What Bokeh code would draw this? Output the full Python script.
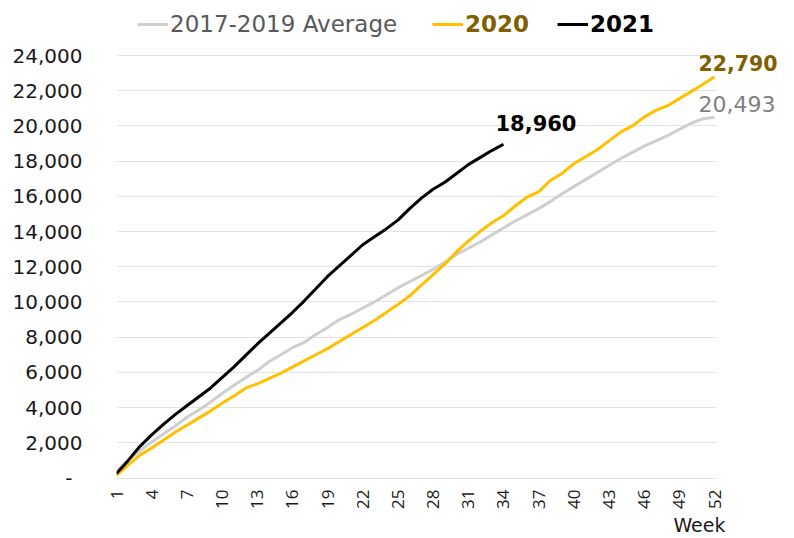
import math
from bokeh.plotting import figure
from bokeh.models import FixedTicker, NumeralTickFormatter, Legend, LegendItem, Label, Title
from bokeh.embed import file_html
from bokeh.resources import INLINE

weeks = list(range(1, 53))
avg_2017_2019 = [400, 1000, 1550, 2050, 2500, 2950, 3450, 3850, 4300, 4800,
                 5250, 5700, 6100, 6600, 7000, 7400, 7700, 8150, 8550, 9000,
                 9300, 9650, 10000, 10400, 10800, 11150, 11500, 11850, 12250, 12700,
                 13050, 13400, 13800, 14200, 14600, 14950, 15300, 15700, 16150, 16550,
                 16950, 17350, 17750, 18150, 18500, 18850, 19150, 19450, 19800, 20150,
                 20400, 20493]
y2020 = [150, 750, 1300, 1700, 2150, 2600, 3000, 3400, 3800, 4250,
         4650, 5100, 5350, 5650, 5950, 6300, 6650, 7000, 7350, 7750,
         8150, 8550, 8950, 9400, 9850, 10350, 10950, 11550, 12150, 12850,
         13450, 14000, 14500, 14900, 15450, 15950, 16250, 16900, 17300, 17850,
         18250, 18650, 19150, 19650, 20000, 20500, 20880, 21150, 21550, 21950,
         22350, 22790]
y2021 = [250, 1000, 1800, 2450, 3050, 3600, 4100, 4600, 5100, 5700,
         6300, 6950, 7600, 8200, 8800, 9400, 10050, 10750, 11450, 12050,
         12650, 13250, 13700, 14150, 14650, 15300, 15900, 16400, 16800, 17300,
         17800, 18200, 18600, 18960]
weeks_2021 = weeks[:len(y2021)]

series_names = ["2017-2019 Average", "2020", "2021"]
x_ticks = list(range(1, 53, 3))
y_ticks = list(range(0, 24001, 2000))

p = figure(frame_width=670, frame_height=472,
           min_border_left=116, min_border_right=0,
           min_border_top=8, min_border_bottom=0,
           x_range=(1, 58.14), y_range=(-142, 26670),
           output_backend="svg", toolbar_location=None, title=None)
p.outline_line_color = None
p.background_fill_color = "white"
p.border_fill_color = "white"
p.xgrid.visible = False
p.ygrid.grid_line_color = "#E3E3E3"
p.ygrid.grid_line_width = 1
p.ygrid.cross_bounds = (1, 52.15)

# y axis
p.yaxis.ticker = FixedTicker(ticks=y_ticks)
p.yaxis.formatter = NumeralTickFormatter(format="0,0")
p.yaxis.major_label_overrides = {0: "-\u2002"}
p.yaxis.axis_line_color = None
p.yaxis.major_tick_line_color = None
p.yaxis.minor_tick_line_color = None
p.yaxis.major_tick_out = 0
p.yaxis.major_label_standoff = 34
p.yaxis.major_label_text_font = "DejaVu Sans"
p.yaxis.major_label_text_font_size = "20px"
p.yaxis.major_label_text_color = "#1a1a1a"

# x axis
p.xaxis.ticker = FixedTicker(ticks=x_ticks)
p.xaxis.bounds = (1, 52.15)
p.xaxis.major_label_orientation = math.pi / 2
p.xaxis.axis_line_color = None
p.xaxis.major_tick_line_color = None
p.xaxis.minor_tick_line_color = None
p.xaxis.major_tick_out = 0
p.xaxis.major_label_standoff = 9
p.xaxis.major_label_text_font = "Open Sans"
p.xaxis.major_label_text_font_size = "17px"
p.xaxis.major_label_text_color = "#1a1a1a"

p.add_layout(Title(text="Week", align="right", offset=61, standoff=0,
                   text_font="DejaVu Sans", text_font_size="19px",
                   text_font_style="normal", text_color="#1a1a1a"), "below")

r_avg = p.line(weeks, avg_2017_2019, line_color="#CFCFCF", line_width=3, line_join="round")
r_2020 = p.line(weeks, y2020, line_color="#FFC000", line_width=3, line_join="round")
r_2021 = p.line(weeks_2021, y2021, line_color="#000000", line_width=3, line_join="round")


def add_legend(label, r, color, style, vx):
    lg = Legend(items=[LegendItem(label=label, renderers=[r])],
                location=(vx, 443), orientation="horizontal",
                glyph_width=31, glyph_height=20, label_standoff=2,
                padding=0, margin=0, spacing=0,
                border_line_color=None, background_fill_alpha=0,
                label_text_font="DejaVu Sans", label_text_font_size="23px",
                label_text_color=color, label_text_font_style=style)
    p.add_layout(lg, "center")


add_legend(series_names[0], r_avg, "#595959", "normal", 21)
add_legend(series_names[1], r_2020, "#7F6000", "bold", 316)
add_legend(series_names[2], r_2021, "#000000", "bold", 441)

# end labels
p.add_layout(Label(x=weeks[-1], y=y2020[-1], text=f"{y2020[-1]:,}",
                   x_offset=-16, y_offset=14, text_baseline="middle",
                   text_font="DejaVu Sans", text_font_size="20.5px",
                   text_font_style="bold", text_color="#7F6000"))
p.add_layout(Label(x=weeks[-1], y=avg_2017_2019[-1], text=f"{avg_2017_2019[-1]:,}",
                   x_offset=-16, y_offset=13, text_baseline="middle",
                   text_font="DejaVu Sans", text_font_size="22px",
                   text_color="#7F7F7F"))
p.add_layout(Label(x=weeks_2021[-1], y=y2021[-1], text=f"{y2021[-1]:,}",
                   x_offset=-8, y_offset=21, text_baseline="middle",
                   text_font="DejaVu Sans", text_font_size="21px",
                   text_font_style="bold", text_color="#000000"))

open("out.html", "w").write(file_html(p, INLINE))
